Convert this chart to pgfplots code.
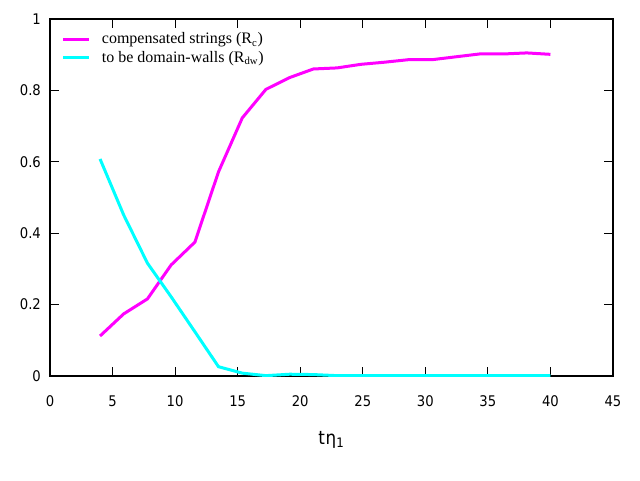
\documentclass[border=0pt]{standalone}
\usepackage{fontspec}
\setmainfont{Liberation Serif}
\newfontfamily\tickfont[FakeStretch=0.9]{DejaVu Sans}
\usepackage{pgfplots}
\pgfplotsset{compat=1.18}
\definecolor{mag}{RGB}{255,0,255}
\definecolor{cya}{RGB}{0,255,255}
\begin{document}
\begin{tikzpicture}[x=0.75pt,y=0.75pt]
\useasboundingbox (0,0) rectangle (640,480);
\begin{axis}[
  at={(37.5pt,78pt)}, anchor=south west,
  scale only axis, width=422.25pt, height=267.75pt,
  xmin=0, xmax=45, ymin=0, ymax=1,
  xtick={0,5,...,45}, ytick={0,0.2,0.4,0.6,0.8,1},
  tick align=inside, major tick length=6.5pt,
  minor tick num=0,
  axis line style={line width=0.9pt},
  every tick/.style={black, line width=0.9pt},
  /pgf/number format/assume math mode=true,
  ticklabel style={font=\tickfont\fontsize{11}{13}\selectfont},
  xticklabel style={yshift=-11pt},
  yticklabel style={xshift=-3.3pt},
  yticklabel={\pgfmathprintnumber[fixed,precision=1]{\tick}},
  xlabel={\tickfont\fontsize{14}{16}\selectfont t\kern0.5ptη\textsubscript{1}},
  xlabel style={yshift=-12pt},
  legend style={draw=none, fill=none, at={(0,1)}, anchor=north west, xshift=5.5pt, yshift=-5pt,
    font=\fontsize{12}{14}\selectfont, row sep=0pt, inner sep=3pt},
  legend cell align=left,
  legend image code/.code={\draw[#1] (0pt,0pt) -- (19.5pt,0pt); \path (26pt,0pt);},
]
\addplot[mag, line width=2.25pt] coordinates {
(4,0.112) (5.89,0.174) (7.79,0.216) (9.68,0.311) (11.58,0.375) (13.47,0.572)
(15.37,0.723) (17.26,0.803) (19.16,0.836) (21.05,0.860) (22.95,0.863) (24.84,0.873)
(26.74,0.879) (28.63,0.886) (30.53,0.886) (32.42,0.894) (34.32,0.902) (36.21,0.902)
(38.11,0.905) (40,0.901)};
\addlegendentry{compensated strings (R\textsubscript{c})}
\addplot[cya, line width=2.25pt] coordinates {
(4,0.608) (5.89,0.451) (7.79,0.316) (9.68,0.222) (11.58,0.124) (13.47,0.026)
(15.37,0.008) (17.26,0.001) (19.16,0.005) (21.05,0.004) (22.95,0.001) (24.84,0.001)
(26.74,0.001) (28.63,0.001) (30.53,0.001) (32.42,0.001) (34.32,0.001) (36.21,0.001)
(38.11,0.001) (40,0.001)};
\addlegendentry{to be domain-walls (R\textsubscript{dw})}
\end{axis}
\end{tikzpicture}
\end{document}
